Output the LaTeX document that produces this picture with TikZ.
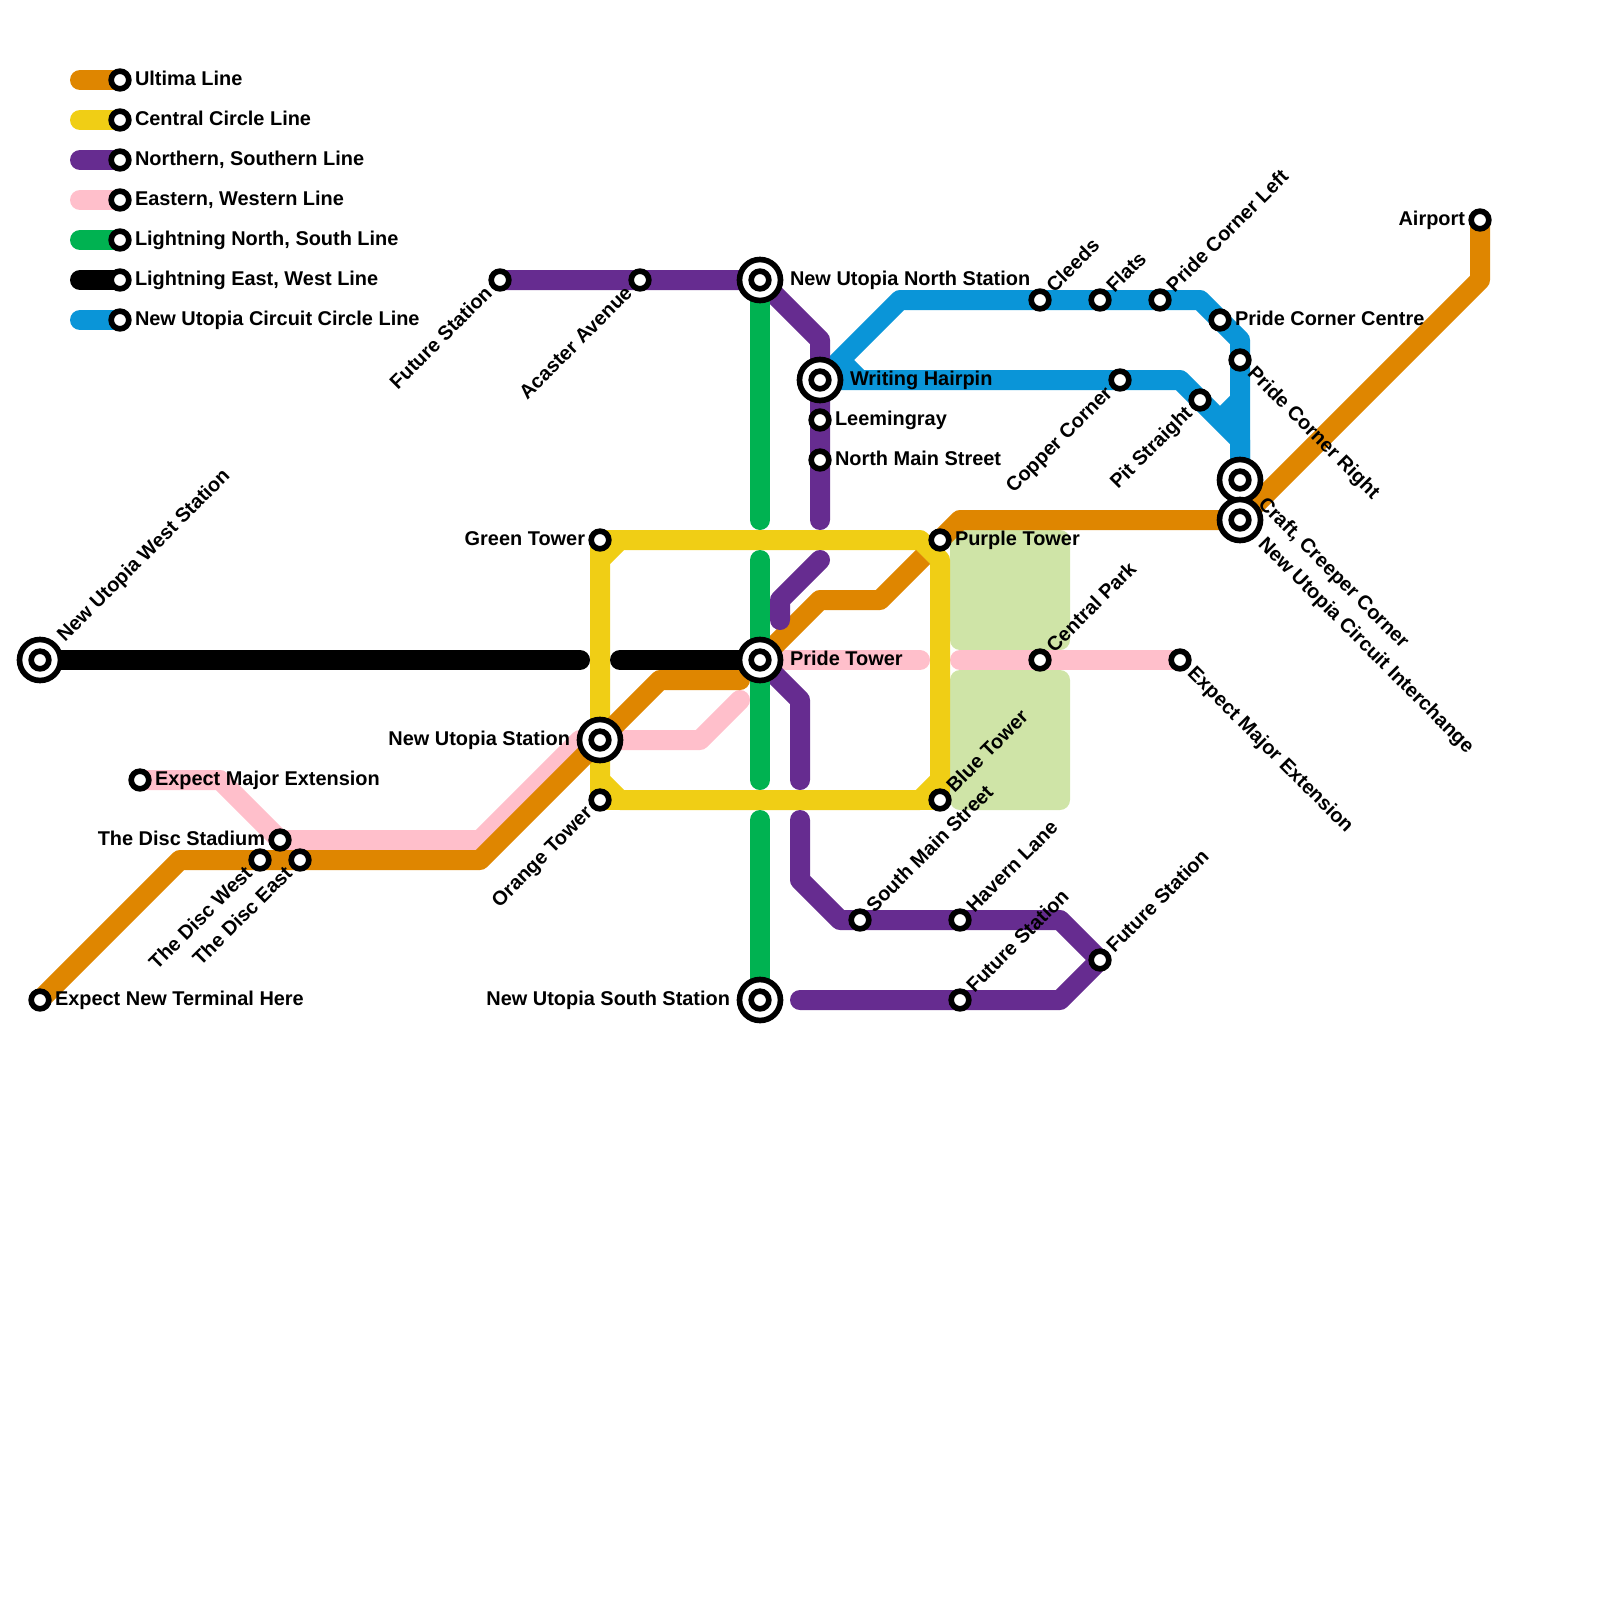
\documentclass[tikz,border=0pt]{standalone}
\usepackage{fontspec}
\setmainfont{Liberation Sans}
\usetikzlibrary{calc}
\definecolor{cOrange}{HTML}{DF8600}
\definecolor{cYellow}{HTML}{F0CE15}
\definecolor{cPurple}{HTML}{662C90}
\definecolor{cPink}{HTML}{FFBFCB}
\definecolor{cGreen}{HTML}{00B251}
\definecolor{cBlue}{HTML}{0A95D8}
\definecolor{cPale}{HTML}{CFE4A7}
\pgfdeclarelayer{lines}
\pgfsetlayers{lines,main}
\tikzset{
  railway/.style={line width=4mm,line cap=round,line join=round},
  halt/.style={circle,draw=black,fill=white,line width=1.13mm,minimum size=3.53mm,inner sep=0pt,outer sep=0pt},
  hub/.style={circle,draw=black,fill=white,line width=1.13mm,minimum size=8.2mm,inner sep=0pt,outer sep=0pt},
  lbl/.style={font=\fontsize{11.34pt}{13pt}\selectfont\bfseries,inner sep=0pt,outer sep=0pt,text=black},
}
\newcommand\Hub[2]{\node[hub] (#1) at (#2) {};\node[halt] (#1-i) at (#1.center) {};}
\newcommand\Halt[2]{\node[halt] (#1) at (#2) {};}
\newcommand\LabE[3]{\node[lbl,anchor=base west] (#2-l) at ($(#2.center)+(#1,5.5)$) {#3};}
\newcommand\LabW[3]{\node[lbl,anchor=base east] (#2-l) at ($(#2.center)+(-#1,5.5)$) {#3};}
\newcommand\LabNE[3]{\node[lbl,rotate=45,anchor=base west] (#2-l) at ($(#2.center)+({0.7071*#1+3.9},{-0.7071*#1+3.9})$) {#3};}
\newcommand\LabSE[3]{\node[lbl,rotate=-45,anchor=base west] (#2-l) at ($(#2.center)+({0.7071*#1-3.9},{0.7071*#1+3.9})$) {#3};}
\newcommand\LabSW[3]{\node[lbl,rotate=45,anchor=base east] (#2-l) at ($(#2.center)+({-0.7071*#1+3.9},{0.7071*#1+3.9})$) {#3};}
\begin{document}
\begin{tikzpicture}[x=0.2mm,y=-0.2mm]
\useasboundingbox (0,0) rectangle (1600,1600);
% legend
\foreach \n/\yy in {1/80,2/120,3/160,4/200,5/240,6/280,7/320}{
  \coordinate (legs\n) at (80,\yy);
  \Halt{leg\n}{120,\yy}
}
\LabE{15}{leg1}{Ultima Line}
\LabE{15}{leg2}{Central Circle Line}
\LabE{15}{leg3}{Northern, Southern Line}
\LabE{15}{leg4}{Eastern, Western Line}
\LabE{15}{leg5}{Lightning North, South Line}
\LabE{15}{leg6}{Lightning East, West Line}
\LabE{15}{leg7}{New Utopia Circuit Circle Line}
% stations
\Hub{west}{40,660}
\Halt{terminal}{40,1000}
\Halt{majorW}{140,780}
\Halt{stadium}{280,840}
\Halt{discW}{260,860}
\Halt{discE}{300,860}
\Halt{futureN}{500,280}
\Halt{acaster}{640,280}
\Hub{nus}{600,740}
\Halt{greenT}{600,540}
\Halt{orangeT}{600,800}
\Hub{pride}{760,660}
\Hub{north}{760,280}
\Hub{south}{760,1000}
\Hub{hairpin}{820,380}
\Halt{leeming}{820,420}
\Halt{northMain}{820,460}
\Halt{purpleT}{940,540}
\Halt{blueT}{940,800}
\Halt{central}{1040,660}
\Halt{majorE}{1180,660}
\Halt{southMain}{860,920}
\Halt{havern}{960,920}
\Halt{futureA}{960,1000}
\Halt{futureB}{1100,960}
\Halt{cleeds}{1040,300}
\Halt{flats}{1100,300}
\Halt{cornerL}{1160,300}
\Halt{cornerC}{1220,320}
\Halt{cornerR}{1240,360}
\Halt{copper}{1120,380}
\Halt{pit}{1200,400}
\Hub{craft}{1240,480}
\Hub{circuit}{1240,520}
\Halt{airport}{1480,220}
% labels
\LabNE{30}{west}{New Utopia West Station}
\LabE{15}{terminal}{Expect New Terminal Here}
\LabE{15}{majorW}{Expect Major Extension}
\LabW{15}{stadium}{The Disc Stadium}
\LabSW{15}{discW}{The Disc West}
\LabSW{15}{discE}{The Disc East}
\LabSW{15}{futureN}{Future Station}
\LabSW{15}{acaster}{Acaster Avenue}
\LabW{30}{nus}{New Utopia Station}
\LabW{15}{greenT}{Green Tower}
\LabSW{15}{orangeT}{Orange Tower}
\LabE{30}{pride}{Pride Tower}
\LabE{30}{north}{New Utopia North Station}
\LabW{30}{south}{New Utopia South Station}
\LabE{30}{hairpin}{Writing Hairpin}
\LabE{15}{leeming}{Leemingray}
\LabE{15}{northMain}{North Main Street}
\LabE{15}{purpleT}{Purple Tower}
\LabNE{15}{blueT}{Blue Tower}
\LabNE{15}{central}{Central Park}
\LabSE{15}{majorE}{Expect Major Extension}
\LabNE{15}{southMain}{South Main Street}
\LabNE{15}{havern}{Havern Lane}
\LabNE{15}{futureA}{Future Station}
\LabNE{15}{futureB}{Future Station}
\LabNE{15}{cleeds}{Cleeds}
\LabNE{15}{flats}{Flats}
\LabNE{15}{cornerL}{Pride Corner Left}
\LabE{15}{cornerC}{Pride Corner Centre}
\LabSE{15}{cornerR}{Pride Corner Right}
\LabSW{15}{copper}{Copper Corner}
\LabSW{15}{pit}{Pit Straight}
\LabSE{30}{craft}{Craft, Creeper Corner}
\LabSE{30}{circuit}{New Utopia Circuit Interchange}
\LabW{15}{airport}{Airport}
% lines
\begin{pgfonlayer}{lines}
\fill[cPale,rounded corners=2mm] (950,530) rectangle (1070,650);
\fill[cPale,rounded corners=2mm] (950,670) rectangle (1070,810);
% legend lines
\draw[railway,cOrange] (legs1) -- (leg1.center);
\draw[railway,cYellow] (legs2) -- (leg2.center);
\draw[railway,cPurple] (legs3) -- (leg3.center);
\draw[railway,cPink] (legs4) -- (leg4.center);
\draw[railway,cGreen] (legs5) -- (leg5.center);
\draw[railway,black] (legs6) -- (leg6.center);
\draw[railway,cBlue] (legs7) -- (leg7.center);
% pink
\draw[railway,cPink] (majorW.center) -- (220,780) -- (stadium.center) -- (480,840) -- (580,740) -- (nus.center) -- (700,740) -- (740,700);
\draw[railway,cPink] (pride.center) -- (920,660);
\draw[railway,cPink] (960,660) -- (central.center) -- (majorE.center);
% blue
\draw[railway,cBlue] (hairpin.center) -- (1180,380) -- (craft.center |- 0,440) -- (craft.center);
\draw[railway,cBlue] (hairpin.center) -- (900,300) -- (cleeds.center) -- (flats.center) -- (cornerL.center) -- (1200,300) -- (cornerC.center) -- (1240,340) -- (cornerR.center) -- (craft.center);
\draw[railway,cBlue,line cap=butt] (840,360) -- (860,380);
\draw[railway,cBlue,line cap=butt] (1240,400) -- (1220,420);
% yellow
\draw[railway,cYellow] (620,540) -- (920,540) -- (940,560) -- (940,780) -- (920,800) -- (620,800) -- (600,780) -- (600,560) -- cycle;
\draw[railway,cYellow] (620,540) -- (greenT.center) -- (600,560);
\draw[railway,cYellow] (600,780) -- (orangeT.center) -- (620,800);
\draw[railway,cYellow] (920,800) -- (blueT.center) -- (940,780);
% orange
\draw[railway,cOrange] (terminal.center) -- (180,860) -- (discW.center) -- (discE.center) -- (480,860) -- (660,680) -- (740,680);
\draw[railway,cOrange,line cap=butt] (pride.center) -- (820,600) -- (880,600) -- (923,557);
\draw[railway,cOrange] (purpleT.center) -- (960,520) -- (circuit.center) -- (1480,280) -- (airport.center);
% purple
\draw[railway,cPurple] (futureN.center) -- (north.center) -- (820,340) -- (820,520);
\draw[railway,cPurple] (820,560) -- (780,600) -- (780,620);
\draw[railway,cPurple] (pride.center) -- (800,700) -- (800,780);
\draw[railway,cPurple] (800,820) -- (800,880) -- (840,920) -- (1060,920) -- (futureB.center) -- (1060,1000) -- (800,1000);
% green
\draw[railway,cGreen] (north.center) -- (760,520);
\draw[railway,cGreen] (760,560) -- (760,780);
\draw[railway,cGreen] (760,820) -- (south.center);
% black
\draw[railway,black] (west.center) -- (580,660);
\draw[railway,black] (620,660) -- (pride.center);
\end{pgfonlayer}
\end{tikzpicture}
\end{document}
